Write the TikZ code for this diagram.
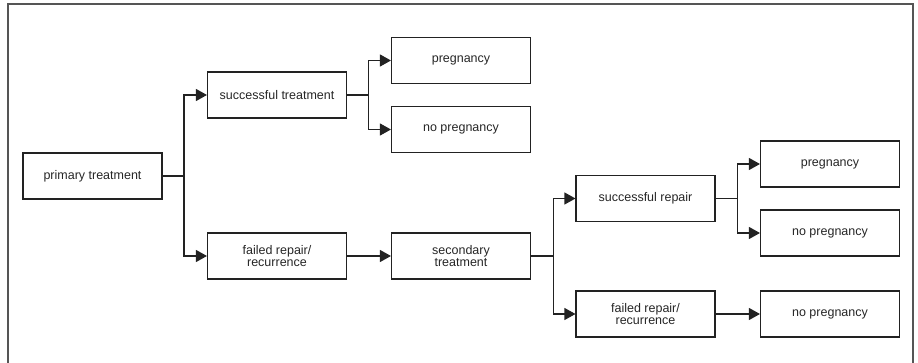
\documentclass[tikz,border=0pt]{standalone}
\usepackage{fontspec}
\setmainfont{Liberation Sans}
\usetikzlibrary{arrows.meta}
\definecolor{framegray}{HTML}{555555}
\definecolor{linedark}{HTML}{222222}
\begin{document}
\begin{tikzpicture}[x=1pt,y=-1pt,
  box/.style={draw=linedark,line width=1.1pt,minimum width=139pt,minimum height=46pt,inner sep=0pt,align=center,
    font=\fontsize{12.5}{12}\selectfont,text=black!85},
  conn/.style={draw=linedark,line width=1.1pt},
  arr/.style={conn,-{Triangle[length=11pt,width=12pt]}}]
\useasboundingbox (0,0) rectangle (918,363);
\draw[framegray,line width=1.2pt] (8,365) -- (8,4) -- (913,4) -- (913,365);
\node[box] (pt) at (92.5,176) {primary treatment};
\node[box] (st) at (277,95) {successful treatment};
\node[box] (fr1) at (277,256) {failed repair/\\recurrence};
\node[box] (p1) at (461,60.5) {pregnancy};
\node[box] (np1) at (461,129.5) {no pregnancy};
\node[box] (sec) at (461,256) {secondary\\treatment};
\node[box] (sr) at (645.5,198.5) {successful repair};
\node[box] (fr2) at (645.5,314) {failed repair/\\recurrence};
\node[box] (p2) at (830,164) {pregnancy};
\node[box] (np2) at (830,233) {no pregnancy};
\node[box] (np3) at (830,314) {no pregnancy};
\coordinate (b1) at (184,176);
\coordinate (b2) at (368.5,95);
\coordinate (b3) at (553.7,256);
\coordinate (b4) at (737.3,198.5);
\draw[conn] (pt.east) -- (b1);
\draw[arr] (b1) |- (st.west);
\draw[arr] (b1) |- (fr1.west);
\draw[conn] (st.east) -- (b2);
\draw[arr] (b2) |- (p1.west);
\draw[arr] (b2) |- (np1.west);
\draw[arr] (fr1.east) -- (sec.west);
\draw[conn] (sec.east) -- (b3);
\draw[arr] (b3) |- (sr.west);
\draw[arr] (b3) |- (fr2.west);
\draw[conn] (sr.east) -- (b4);
\draw[arr] (b4) |- (p2.west);
\draw[arr] (b4) |- (np2.west);
\draw[arr] (fr2.east) -- (np3.west);
\end{tikzpicture}
\end{document}
